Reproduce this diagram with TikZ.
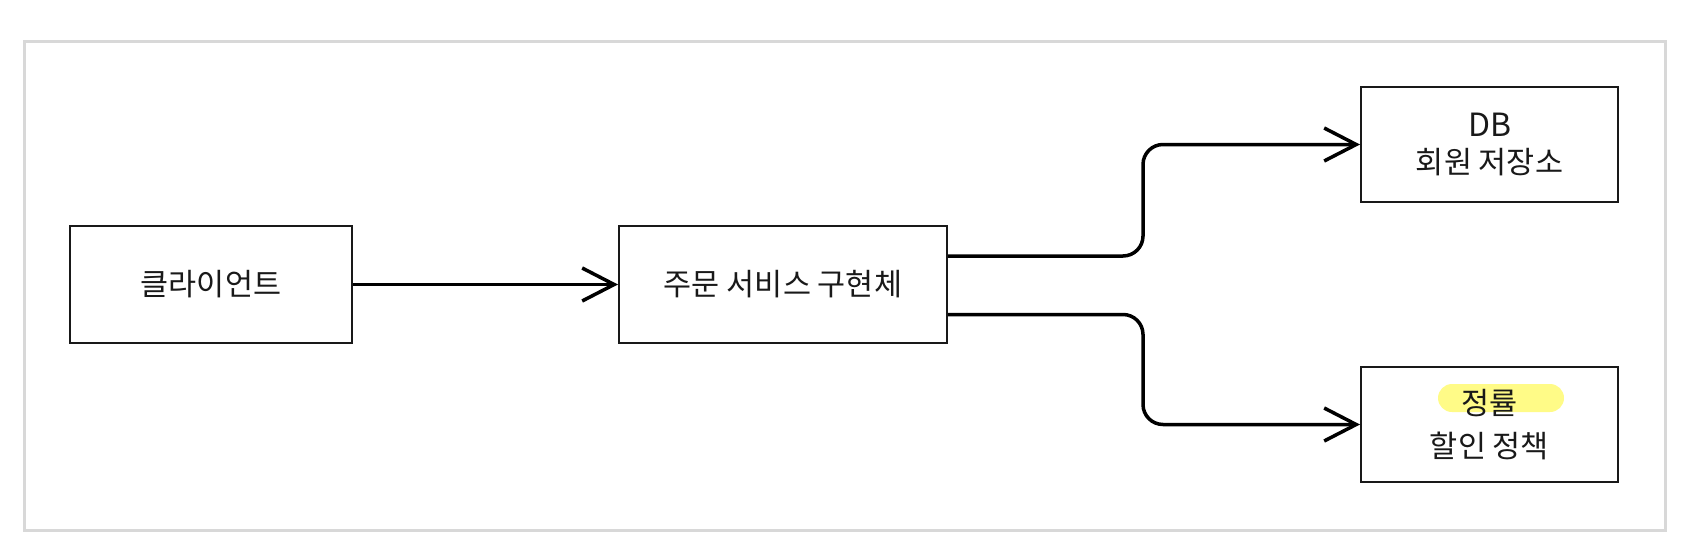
\documentclass[tikz,border=0pt]{standalone}
\usepackage{fontspec}
\newfontfamily\kr{Noto Sans CJK KR}
\usetikzlibrary{arrows.meta,calc}
\definecolor{framegray}{RGB}{216,216,216}
\definecolor{hilite}{RGB}{255,251,135}
\definecolor{ink}{RGB}{25,25,25}
\begin{document}
\begin{tikzpicture}[x=1pt,y=-1pt,
  box/.style={draw=ink, line width=2pt, inner sep=0pt, align=center, text=ink,
    font=\kr\fontsize{30.5}{37}\selectfont},
  leftbox/.style={box, minimum height=117pt},
  rightbox/.style={box, minimum width=257pt, minimum height=115pt},
  arr/.style={line width=3.5pt, draw=black, rounded corners=20pt,
    -{Straight Barb[length=32pt,width=33pt,line width=3.5pt]}},
  outerframe/.style={draw=framegray, line width=3pt},
  hilitebox/.style={fill=hilite, rounded corners=14pt}]
\useasboundingbox (0,0) rectangle (1696,552);
\draw[outerframe] (24,41) rectangle (1665,530);
% highlight behind text
\fill[hilitebox] (1438,384) rectangle (1564,412);
\node[leftbox, minimum width=282pt] (client) at (211,284.5) {클라이언트};
\node[leftbox, minimum width=328pt] (svc) at (783,284.5) {주문 서비스 구현체};
\node[rightbox] (db) at (1489.5,144.5) {\fontsize{32}{37}\selectfont DB\\회원 저장소};
\node[rightbox, font=\kr\fontsize{30.5}{43}\selectfont] (pol) at (1489.5,424.5) {정률\\할인 정책};
\coordinate (mid) at (1143,0);
\draw[arr] (client.east) -- (svc.west);
\draw[arr] ([yshift=28.5pt]svc.east) -- ([yshift=28.5pt]svc.east -| mid) -- (mid |- db.west) -- (db.west);
\draw[arr] ([yshift=-30pt]svc.east) -- ([yshift=-30pt]svc.east -| mid) -- (mid |- pol.west) -- (pol.west);
\end{tikzpicture}
\end{document}
